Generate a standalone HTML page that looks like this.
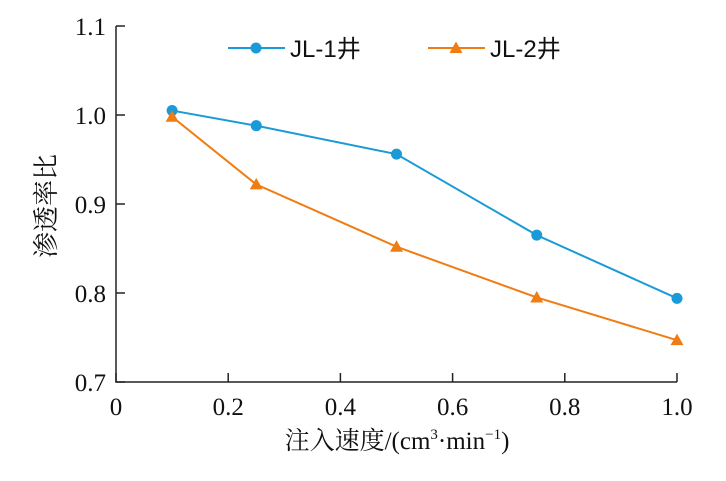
<!DOCTYPE html>
<html><head><meta charset="utf-8"><style>
body{margin:0;background:#fff}
svg text{font-family:"Liberation Serif","Noto Serif CJK SC",serif;fill:#111}
svg text.sans{font-family:"Liberation Sans","Noto Sans CJK SC",sans-serif}
</style></head><body>
<svg id="chart" width="726" height="476" viewBox="0 0 726 476"></svg>
<script>
const xValues=[0.1,0.25,0.5,0.75,1.0];
const jl1Values=[1.005,0.988,0.956,0.865,0.794];
const jl2Values=[0.998,0.922,0.852,0.795,0.747];
const xTicks=[0,0.2,0.4,0.6,0.8,1.0];
const xTickLabels=["0","0.2","0.4","0.6","0.8","1.0"];
const yTicks=[0.7,0.8,0.9,1.0,1.1];
const yTickLabels=["0.7","0.8","0.9","1.0","1.1"];
const NS="http://www.w3.org/2000/svg";
const svg=document.getElementById('chart');
const L=116,R=677,T=26,B=382;
const sx=v=>L+(v-0)/(1-0)*(R-L);
const sy=v=>B-(v-0.7)/(1.1-0.7)*(B-T);
function mk(tag,attrs,parent){const e=document.createElementNS(NS,tag);for(const k in attrs)e.setAttribute(k,attrs[k]);(parent||svg).appendChild(e);return e;}
let ax=mk('path',{d:`M${L},${T} V${B} H${R}`,stroke:'#222','stroke-width':1.5,fill:'none'});


xTicks.forEach((v,i)=>{
 let t=mk('line',{x1:sx(v),x2:sx(v),y1:B,y2:B-9,stroke:'#222','stroke-width':1.5});
 
 
 let l=mk('text',{x:sx(v),y:B+33,'text-anchor':'middle','font-size':25});
 l.textContent=xTickLabels[i];
 
 
});
yTicks.forEach((v,i)=>{
 let t=mk('line',{x1:L,x2:L+9,y1:sy(v),y2:sy(v),stroke:'#222','stroke-width':1.5});
 
 
 let l=mk('text',{x:L-10,y:sy(v)+9,'text-anchor':'end','font-size':25});
 l.textContent=yTickLabels[i];
 
 
});
function series(vals,color,marker,name){
 let p=mk('polyline',{points:xValues.map((x,i)=>sx(x)+','+sy(vals[i])).join(' '),stroke:color,'stroke-width':2,fill:'none'});
 
 
 xValues.forEach((x,i)=>{
  let m=drawMarker(sx(x),sy(vals[i]),color,marker);
  
  
 });
}
function drawMarker(x,y,color,marker){
 if(marker==='circle')return mk('circle',{cx:x,cy:y,r:5.5,fill:color});
 return mk('path',{d:`M${x},${y-6.5} L${x+6.5},${y+5} L${x-6.5},${y+5} Z`,fill:color});
}
series(jl1Values,'#1a9ad6','circle','jl1');
series(jl2Values,'#f07c14','tri','jl2');
[[228,'#1a9ad6','circle','JL-1井','legend-jl1'],[428,'#f07c14','tri','JL-2井','legend-jl2']].forEach(d=>{
 let g=mk('g',{});
 
 
 mk('line',{x1:d[0],x2:d[0]+57,y1:48,y2:48,stroke:d[1],'stroke-width':2},g);
 g.appendChild(drawMarker(d[0]+28,48,d[1],d[2]));
 let t=mk('text',{x:d[0]+62,y:57,'font-size':24,'class':'sans'},g);t.textContent=d[3];
});
let xt=mk('text',{x:397,y:449,'text-anchor':'middle','font-size':25});
xt.innerHTML='注入速度/(cm<tspan font-size="15" dy="-10">3</tspan><tspan dy="10">·min</tspan><tspan font-size="15" dy="-10">−1</tspan><tspan dy="10">)</tspan>';


let yt=mk('text',{x:0,y:0,'text-anchor':'middle','font-size':26,transform:'translate(55,206) rotate(-90)'});
yt.textContent='渗透率比';


</script>
</body></html>
